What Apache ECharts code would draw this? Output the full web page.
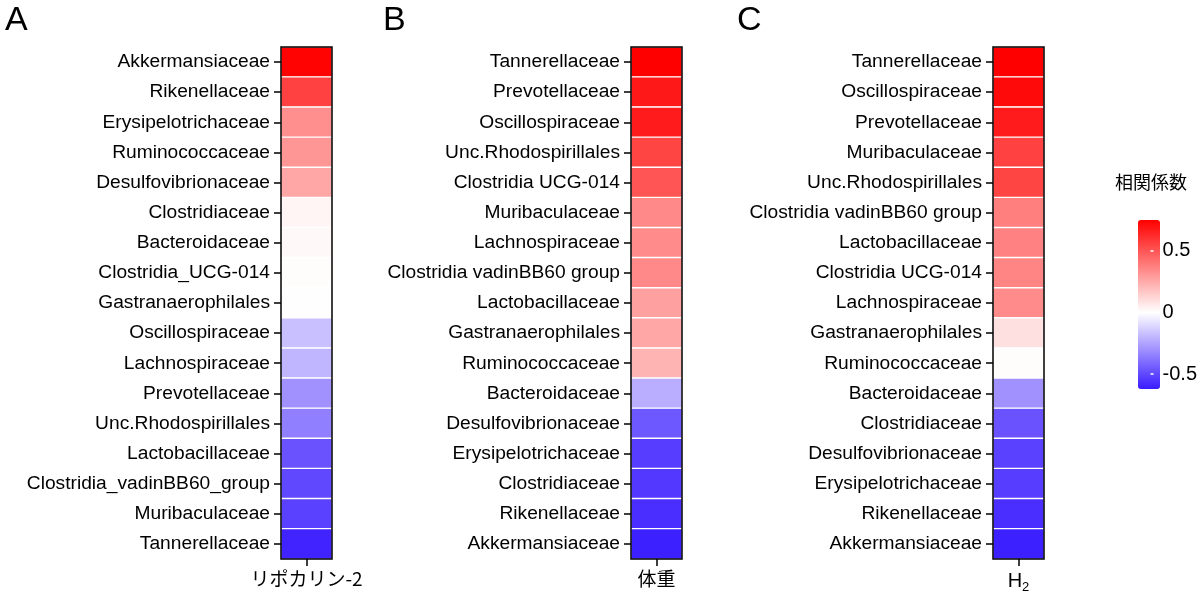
<!DOCTYPE html>
<html>
<head>
<meta charset="utf-8">
<script src="https://cdn.jsdelivr.net/npm/echarts@6/dist/echarts.min.js"></script>
<style>html,body{margin:0;padding:0;background:#fff}#c{width:1200px;height:594px}</style>
</head>
<body>
<div id="c"></div>
<script>
// ---- data ----
const catsA = ['Akkermansiaceae','Rikenellaceae','Erysipelotrichaceae','Ruminococcaceae','Desulfovibrionaceae','Clostridiaceae','Bacteroidaceae','Clostridia_UCG-014','Gastranaerophilales','Oscillospiraceae','Lachnospiraceae','Prevotellaceae','Unc.Rhodospirillales','Lactobacillaceae','Clostridia_vadinBB60_group','Muribaculaceae','Tannerellaceae'];
const valsA = [0.74,0.56,0.33,0.31,0.26,0.03,0.02,0.01,0.005,-0.17,-0.20,-0.30,-0.35,-0.47,-0.50,-0.52,-0.60];
const catsB = ['Tannerellaceae','Prevotellaceae','Oscillospiraceae','Unc.Rhodospirillales','Clostridia UCG-014','Muribaculaceae','Lachnospiraceae','Clostridia vadinBB60 group','Lactobacillaceae','Gastranaerophilales','Ruminococcaceae','Bacteroidaceae','Desulfovibrionaceae','Erysipelotrichaceae','Clostridiaceae','Rikenellaceae','Akkermansiaceae'];
const valsB = [0.75,0.68,0.67,0.55,0.50,0.35,0.34,0.35,0.28,0.26,0.22,-0.22,-0.46,-0.53,-0.54,-0.57,-0.61];
const catsC = ['Tannerellaceae','Oscillospiraceae','Prevotellaceae','Muribaculaceae','Unc.Rhodospirillales','Clostridia vadinBB60 group','Lactobacillaceae','Clostridia UCG-014','Lachnospiraceae','Gastranaerophilales','Ruminococcaceae','Bacteroidaceae','Clostridiaceae','Desulfovibrionaceae','Erysipelotrichaceae','Rikenellaceae','Akkermansiaceae'];
const valsC = [0.75,0.72,0.67,0.56,0.55,0.38,0.37,0.36,0.34,0.09,0.01,-0.30,-0.47,-0.52,-0.53,-0.57,-0.61];
const xLabels = ['リポカリン-2','体重','H2'];
const panelLetters = ['A','B','C'];
const legendTitle = '相関係数';
const cbMin = -0.62, cbMax = 0.75;
const cbTicks = [-0.5, 0, 0.5];

// ---- colour scale (white at 0) ----
const blue = [58,28,255], white=[255,255,255], red=[255,0,0];
function colAt(v){
  let a,b,t;
  if (v<0){a=white;b=blue;t=v/cbMin;} else {a=white;b=red;t=v/cbMax;}
  const c=a.map((x,i)=>Math.round(x+(b[i]-x)*t));
  return 'rgb('+c.join(',')+')';
}
const stops=[];
const N=137;
for(let i=0;i<=N;i++){stops.push(colAt(cbMin+(cbMax-cbMin)*i/N));}

const FONT='Liberation Sans, Arial, sans-serif';
const JP='Noto Sans CJK JP, sans-serif';
const gridsPos=[{left:281,width:51},{left:631,width:51},{left:993,width:51}];
const cats=[catsA,catsB,catsC], vals=[valsA,valsB,valsC];

const grid=[],xAxis=[],yAxis=[],series=[];
for(let i=0;i<3;i++){
  grid.push({left:gridsPos[i].left,width:gridsPos[i].width,top:47,height:512,show:true,z:10,
    backgroundColor:'transparent',borderColor:'#000',borderWidth:1.5});
  xAxis.push({type:'category',gridIndex:i,data:[xLabels[i]],
    axisLine:{show:false},axisTick:{show:true,alignWithLabel:true,length:7,lineStyle:{color:'#000',width:1.5}},
    axisLabel:{margin:10,color:'#000',fontSize:19,fontFamily:i===2?FONT:JP,
      formatter:(i===2)?'{h|H}{s|2}':undefined,
      rich:{h:{fontSize:20,fontFamily:FONT,color:'#000'},s:{fontSize:13,fontFamily:FONT,color:'#000',padding:[12,0,0,0]}}},
    z:10});
  yAxis.push({type:'category',gridIndex:i,data:cats[i],inverse:true,
    axisLine:{show:false},axisTick:{show:true,alignWithLabel:true,length:7,lineStyle:{color:'#000',width:1.5}},
    axisLabel:{margin:11,color:'#000',fontSize:19.2,fontFamily:FONT,padding:[3,0,0,0]},z:10});
  series.push({type:'heatmap',xAxisIndex:i,yAxisIndex:i,
    data:vals[i].map((v,j)=>[0,j,v]),
    itemStyle:{borderColor:'#fff',borderWidth:1.4},
    emphasis:{disabled:true}});
}
// colourbar label axis
grid.push({left:1138,width:22,top:220,height:169});
xAxis.push({type:'category',gridIndex:3,data:[''],show:false});
yAxis.push({type:'value',gridIndex:3,min:cbMin,max:cbMax,position:'right',
  splitLine:{show:false},axisLine:{show:false},
  axisTick:{show:true,inside:true,length:3,lineStyle:{color:'#fff',width:1.5},customValues:[-0.5,0.5]},
  axisLabel:{customValues:cbTicks,margin:9,color:'#000',fontSize:20,fontFamily:FONT,
    formatter:v=>String(Math.round(v*10)/10)},z:10});

const chart=echarts.init(document.getElementById('c'));
chart.setOption({
  animation:false,
  backgroundColor:'#fff',
  title:[
    {text:panelLetters[0],left:0,top:-1,textStyle:{fontSize:34,fontWeight:'normal',color:'#000',fontFamily:FONT}},
    {text:panelLetters[1],left:378,top:-1,textStyle:{fontSize:34,fontWeight:'normal',color:'#000',fontFamily:FONT}},
    {text:panelLetters[2],left:732,top:-1,textStyle:{fontSize:34,fontWeight:'normal',color:'#000',fontFamily:FONT}},
    {text:legendTitle,left:1110,top:168,textStyle:{fontSize:18,fontWeight:'normal',color:'#000',fontFamily:JP}}
  ],
  grid,xAxis,yAxis,series,
  visualMap:{type:'continuous',min:cbMin,max:cbMax,seriesIndex:[0,1,2],calculable:false,
    left:1138,top:220,itemWidth:22,itemHeight:169,padding:0,
    inRange:{color:stops},textStyle:{color:'transparent'}}
});
</script>
</body>
</html>
